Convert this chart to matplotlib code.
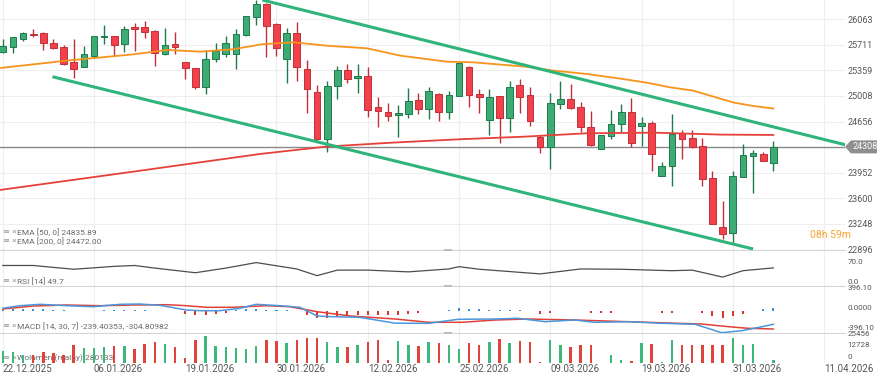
import numpy as np
import matplotlib.pyplot as plt
from matplotlib.patches import Polygon, Rectangle
from matplotlib.transforms import ScaledTranslation

plt.rcParams['font.family'] = ['Roboto', 'DejaVu Sans']

# daily candles from 22.12.2025
opens = [25618, 25686, 25787, 25865, 25874, 25732, 25677, 25476, 25411, 25563,
         25815, 25833, 25718, 25952, 25952, 25902, 25581, 25728, 25471, 25388,
         25136, 25517, 25586, 25581, 25851, 26099, 26273, 25998, 25517, 25870,
         25379, 25059, 24417, 25146, 25361, 25251, 25283, 24852, 24793, 24742,
         24765, 24953, 24834, 25036, 24784, 25004, 25407, 25031, 24674, 25004,
         24701, 25155, 25017, 24449, 24307, 24903, 24967, 24852, 24586, 24275,
         24458, 24623, 24793, 24591, 24632, 23908, 24046, 24495, 24431, 24325,
         23876, 23202, 23120, 23890, 24179, 24211, 24082]
highs = [25787, 25824, 25888, 25925, 25883, 25787, 25709, 25796, 25696, 25833,
         25984, 25833, 25971, 26016, 26035, 25916, 25938, 25888, 25471, 25388,
         25641, 25732, 25833, 25929, 26108, 26325, 26291, 26007, 25938, 26026,
         25503, 25159, 25214, 25421, 25443, 25453, 25411, 24994, 24907, 24884,
         25114, 25045, 25127, 25045, 25072, 25480, 25421, 25100, 25100, 25004,
         25214, 25242, 25136, 24472, 25049, 25210, 25173, 24926, 24802, 24472,
         24811, 24894, 24976, 24715, 24664, 24096, 24756, 24541, 24541, 24426,
         23972, 23560, 23972, 24344, 24266, 24243, 24389]
lows = [25604, 25604, 25769, 25824, 25641, 25659, 25434, 25260, 25407, 25535,
        25723, 25563, 25618, 25631, 25801, 25421, 25572, 25586, 25237, 25100,
        25031, 25480, 25540, 25375, 25838, 25984, 25540, 25563, 25182, 25219,
        24779, 24403, 24243, 24962, 25191, 25054, 24724, 24586, 24669, 24449,
        24701, 24756, 24687, 24669, 24692, 25004, 24861, 24779, 24476, 24357,
        24509, 24770, 24596, 24229, 24004, 24829, 24825, 24518, 24325, 24275,
        24412, 24518, 24311, 24325, 23977, 23908, 23775, 24142, 24289, 23771,
        23244, 23037, 22992, 23890, 23670, 24110, 23981]
closes = [25696, 25815, 25870, 25842, 25732, 25663, 25443, 25375, 25581, 25833,
          25833, 25705, 25929, 25929, 25883, 25604, 25709, 25677, 25388, 25136,
          25512, 25631, 25732, 25861, 26108, 26268, 25971, 25663, 25870, 25411,
          25104, 24417, 25146, 25366, 25246, 25278, 24816, 24802, 24733, 24770,
          24939, 24829, 25077, 24784, 25017, 25462, 25017, 24990, 24999, 24701,
          25136, 24999, 24664, 24307, 24907, 24967, 24839, 24577, 24330, 24472,
          24623, 24793, 24357, 24632, 24211, 24046, 24490, 24421, 24311, 23872,
          23253, 23106, 23908, 24192, 24220, 24119, 24308]
volumes = [12694, 11969, 9067, 8342, 11969, 10881, 8342, 19223, 16321, 16321,
           17410, 18860, 18860, 15233, 21037, 22487, 21037, 17410, 5440, 25389,
           29741, 18860, 17410, 15959, 15596, 18860, 25389, 23576, 21762, 25389,
           27203, 27203, 22487, 17410, 17410, 19223, 22850, 24664, 2902, 24301,
           19223, 18860, 22487, 21762, 19223, 15596, 21762, 19223, 23213, 26477,
           21762, 24301, 22487, 725, 25389, 19949, 17772, 19949, 19949, 0,
           9067, 2902, 2539, 21762, 21037, 725, 24664, 19949, 19223, 19223,
           19949, 19949, 27203, 19949, 21037, 0, 3627]

# moving averages (x = candle index)
ema50_x = [-0.25, 6.3, 12.9, 16.2, 19.5, 22.7, 25.6, 28.7, 31.9, 35.9, 39.2, 43.8,
           46.4, 51.5, 54.3, 57.6, 60.9, 63.5, 65.8, 68.1, 70.1, 72.1, 74.0, 76]
ema50 = [25393, 25494, 25581, 25641, 25618, 25650, 25720, 25746, 25700, 25664, 25563, 25480,
         25471, 25412, 25357, 25311, 25247, 25192, 25127, 25082, 24999, 24917, 24871, 24836]
ema200_x = [-0.25, 12.9, 25.4, 31.9, 38.5, 45.1, 51.5, 57.6, 64.2, 70.8, 76]
ema200 = [23716, 23968, 24211, 24312, 24367, 24413, 24449, 24495, 24504, 24477, 24472]

# trend channel drawn on the chart
upper_x = [25.6, 83.6]
upper_y = [26328, 24320]
lower_x = [4.9, 74.0]
lower_y = [25273, 22904]
last_price = 24308

# RSI
rsi_x = [0, 3, 7, 11, 13, 15, 19, 22, 25, 29, 31, 33, 36, 40, 44, 45, 47, 53, 57,
         61, 66, 68, 71, 73, 76]
rsi = [58, 58, 45, 55, 58, 49, 33, 49, 68, 46, 23, 42, 42, 36, 46, 54, 45, 29, 46,
       45, 40, 42, 18, 40, 49.7]

# MACD
macd_x = [0, 1.7, 3.7, 6.3, 8.9, 11.6, 13.5, 15.5, 18.1, 19.5, 21.4, 23.4, 25, 27.3,
          29.3, 31, 32.6, 35.2, 38.7, 42, 44.9, 48.6, 50.8, 53.5, 56.4, 58.4, 61.7,
          65, 68.3, 70.9, 72.9, 74.9, 76]
macd = [48, 100, 128, 100, 80, 128, 134, 108, 14, 0, 0, 48, 128, 100,
        68, -106, -120, -132, -250, -252, -172, -166, -152, -220, -186, -232, -220,
        -252, -272, -440, -400, -320, -272]
signal_x = [0, 3, 6.3, 9.6, 12.9, 16.2, 18.1, 20.1, 22.7, 26, 28.3, 31, 34.3, 38.7,
            42, 45.3, 48.6, 51.8, 56.4, 61.7, 66.6, 68.9, 71.6, 73.5, 76]
signal = [34, 94, 114, 100, 114, 120, 100, 68, 68, 100, 80, -20, -106, -166,
          -232, -232, -186, -166, -186, -220, -252, -266, -320, -352, -366]
hist = [15, 25, 25, 30, 25, 15, 5, -5, -15, -10,
        5, 15, 20, 20, 15, 3, -10, -15, -70, -87,
        -87, -70, -40, 5, 25, 25, 20, 15, 8, -15,
        -87, -153, -153, -120, -107, -87, -87, -87, -87, -87,
        -67, -53, -10, -10, 5, 47, 33, 33, 10, 5,
        5, 5, 0, -67, -40, 0, 0, 0, -40, -40,
        -40, 0, -10, 0, -10, -53, -40, -10, -10, -53,
        -100, -140, -107, -67, 0, 33, 60]

price_ticks = [26063, 25711, 25359, 25008, 24656, 24304, 23952, 23600, 23248, 22896]
date_ticks = [0, 9, 18, 27, 36, 45, 54, 63, 72, 81]
date_labels = ['22.12.2025', '06.01.2026', '19.01.2026', '30.01.2026', '12.02.2026',
               '25.02.2026', '09.03.2026', '19.03.2026', '31.03.2026', '11.04.2026']

GREEN = '#3dab74'
GREEN_EDGE = '#1f7b4b'
RED = '#f2414b'
RED_EDGE = '#c0303a'
LABEL = '#555555'

W, H = 877, 376
fig = plt.figure(figsize=(W / 100, H / 100), dpi=100)


def panel(top, bottom):
    a = fig.add_axes([0, 1 - bottom / H, 845 / W, (bottom - top) / H])
    a.set_xlim(-0.27, 83.07)
    a.set_xticks(date_ticks)
    a.grid(True, axis='x', color='#eeeeee', lw=0.8)
    a.set_axisbelow(True)
    a.yaxis.tick_right()
    a.tick_params(axis='both', length=0, labelsize=6.5, labelcolor=LABEL)
    a.tick_params(axis='y', pad=2)
    a.tick_params(axis='x', labelbottom=False)
    for s in a.spines.values():
        s.set_visible(False)
    a.spines['bottom'].set_visible(True)
    a.spines['bottom'].set_color('#d4d4d4')
    return a


def legend(a, y, text, z=6):
    a.text(3 / 845, y, '≡ ×', transform=a.transAxes, fontsize=6, color='#999999',
           va='center', zorder=z)
    a.text(17 / 845, y, text, transform=a.transAxes, fontsize=6, color='#6a6a6a',
           va='center', zorder=z)


ax = panel(0, 250)
ax_rsi = panel(251, 286)
ax_macd = panel(287, 333)
ax_vol = panel(334, 363)
ax_vol.spines['bottom'].set_visible(False)
for a in (ax_rsi, ax_macd, ax_vol):
    a.tick_params(axis='y', labelsize=5.8)

# --- price panel
o = np.array(opens)
c = np.array(closes)
idx = np.arange(len(o))
up = c >= o
body_low = np.minimum(o, c)
body_h = np.maximum(np.abs(c - o), 10)

ax.vlines(idx, lows, highs, colors=np.where(up, GREEN_EDGE, RED_EDGE), lw=1, zorder=3)
ax.bar(idx, body_h, bottom=body_low, width=0.66,
       color=np.where(up, GREEN, RED), edgecolor=np.where(up, GREEN_EDGE, RED_EDGE),
       linewidth=0.7, zorder=3)

ax.axhline(last_price, color='#8a8a8a', lw=1, zorder=2)
ax.plot(ema50_x, ema50, color='#f7941d', lw=1.3, zorder=4)
ax.plot(ema200_x, ema200, color='#e5413a', lw=1.3, zorder=4)
ax.plot(upper_x, upper_y, color='#2fb57b', lw=2.2, zorder=5, solid_capstyle='butt')
ax.plot(lower_x, lower_y, color='#2fb57b', lw=2.2, zorder=5, solid_capstyle='butt')

ax.set_ylim(22890, 26328)
# the 24304 level label is hidden under the last price tag
ax.set_yticks(price_ticks, [str(p) if p != 24304 else '' for p in price_ticks])
ax.grid(True, axis='y', color='#eeeeee', lw=0.8)

legend(ax, 0.072, 'EMA [50, 0] 24835.89')
legend(ax, 0.036, 'EMA [200, 0] 24472.00')
ax.text(810 / 845, 0.058, '08h 59m', transform=ax.transAxes, fontsize=7.5,
        color='#f5a52b', va='center')

# last price tag on the axis
fig.canvas.draw()
yf = fig.transFigure.inverted().transform(ax.transData.transform((0, last_price)))[1]
tag = Polygon([(845 / W, yf), (851 / W, yf + 6.5 / H), (877 / W, yf + 6.5 / H),
               (877 / W, yf - 6.5 / H), (851 / W, yf - 6.5 / H)],
              closed=True, transform=fig.transFigure, fc='#8e8e8e', ec='none', zorder=5)
fig.add_artist(tag)
fig.text(853 / W, yf, str(last_price), fontsize=6.5, color='white', va='center', zorder=6)

# --- RSI
ax_rsi.plot(rsi_x, rsi, color='#4d4d4d', lw=0.9)
ax_rsi.set_ylim(-12.8, 108)
ax_rsi.set_yticks([70, 0], ['70.0', '0.0'])
legend(ax_rsi, 0.14, 'RSI [14] 49.7')

# --- MACD
h = np.array(hist)
ax_macd.bar(idx, h, width=0.2, color=np.where(h >= 0, '#3f8fd8', '#d8362e'), zorder=2)
ax_macd.plot(signal_x, signal, color='#e0403a', lw=1.1, zorder=3)
ax_macd.plot(macd_x, macd, color='#4a97dc', lw=1.1, zorder=3)
ax_macd.set_ylim(-446, 474)
ax_macd.set_yticks([396.1, 0, -396.1], ['396.10', '0.0000', '-396.10'])
legend(ax_macd, 0.15, 'MACD [14, 30, 7] -239.40353, -304.80982')

# --- volume (its legend sits behind the bars)
ax_vol.bar(idx, volumes, width=0.24, color=np.where(up, '#3cb878', '#e0423c'), zorder=2)
ax_vol.set_ylim(0, 31600)
ax_vol.set_yticks([25456, 12728, 0], ['25456', '12728', '0'])
legend(ax_vol, 0.17, 'Wolumen (realny) 280133', z=1)
ax_vol.set_xticks(date_ticks, date_labels)
ax_vol.tick_params(axis='x', labelbottom=True, labelsize=7, pad=1)
for lab in ax_vol.get_xticklabels():
    lab.set_ha('left')

# lower panel labels sit a little above their levels
for a, dy in [(ax_rsi, 0.5), (ax_macd, 3.2), (ax_vol, 6.6)]:
    shift = ScaledTranslation(0, dy / 100, fig.dpi_scale_trans)
    for lab in a.get_yticklabels():
        lab.set_transform(lab.get_transform() + shift)

# panel resize handles
for y in [250, 286, 333]:
    fig.add_artist(Rectangle((444 / W, 1 - (y + 1) / H), 8 / W, 2 / H,
                             transform=fig.transFigure, fc='#bdbdbd', ec='none'))

fig.savefig('out.png', dpi=100, facecolor='white')
